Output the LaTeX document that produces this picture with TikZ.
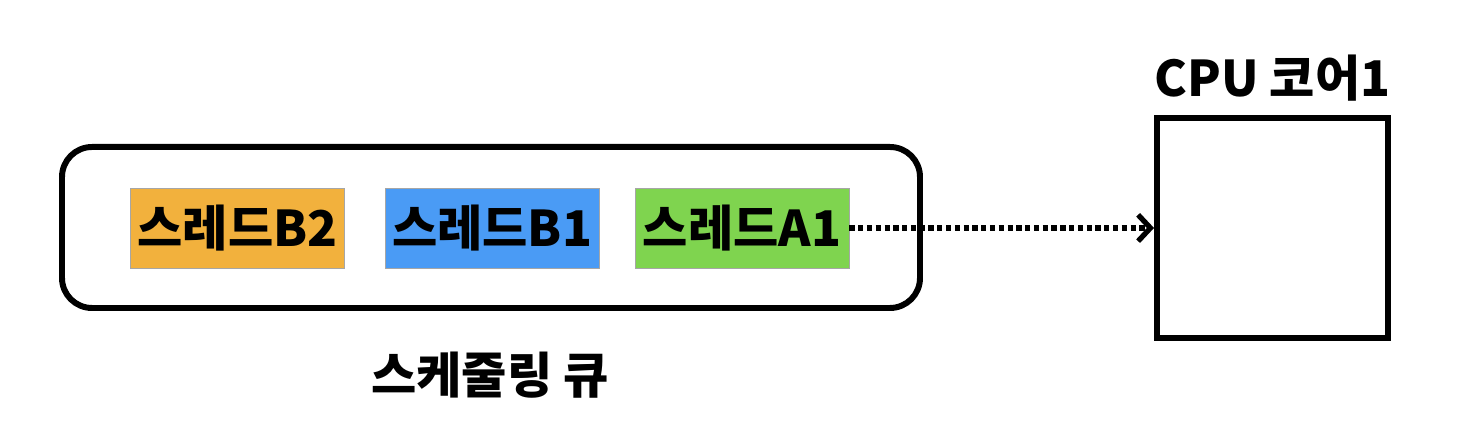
\documentclass[tikz,border=0pt]{standalone}
\usepackage{fontspec}
\setmainfont{Noto Sans CJK KR}
\usetikzlibrary{arrows.meta}

\definecolor{threadorange}{HTML}{F2B13D}
\definecolor{threadblue}{HTML}{4A9BF5}
\definecolor{threadgreen}{HTML}{7FD44F}

\begin{document}
\begin{tikzpicture}[
  thread/.style={draw=black!35, line width=0.4pt, minimum width=4.28cm, minimum height=1.6cm,
    inner sep=0pt, font=\fontsize{28}{34}\selectfont\bfseries},
  queuebox/.style={draw, line width=3.4pt, rounded corners=0.6cm, minimum width=17.16cm, minimum height=3.22cm},
  corebox/.style={draw, line width=3.4pt, minimum width=4.62cm, minimum height=4.4cm},
  caption/.style={font=\fontsize{28}{34}\selectfont\bfseries}]
\useasboundingbox (0,0) rectangle (29.52,8.76);
\node[queuebox]                (Q)   at (9.82,4.21)  {};
  \node[thread, fill=threadorange] (B2)  at (4.75,4.2)  {스레드B2};
  \node[thread, fill=threadblue]   (B1)  at (9.84,4.2)  {스레드B1};
  \node[thread, fill=threadgreen]  (A1)  at (14.84,4.2) {스레드A1};
  \node[corebox]                 (C1)  at (25.45,4.2)  {};
  \node[caption]                 (QL)  at (9.8,1.26)   {스케줄링 큐};
  \node[caption]                 (CL)  at (25.45,7.2)  {CPU 코어1};

  \path[-{Straight Barb[length=7pt,width=15pt]}, line width=3pt, dotted]
		(A1) edge              node {} (C1);
\end{tikzpicture}
\end{document}
